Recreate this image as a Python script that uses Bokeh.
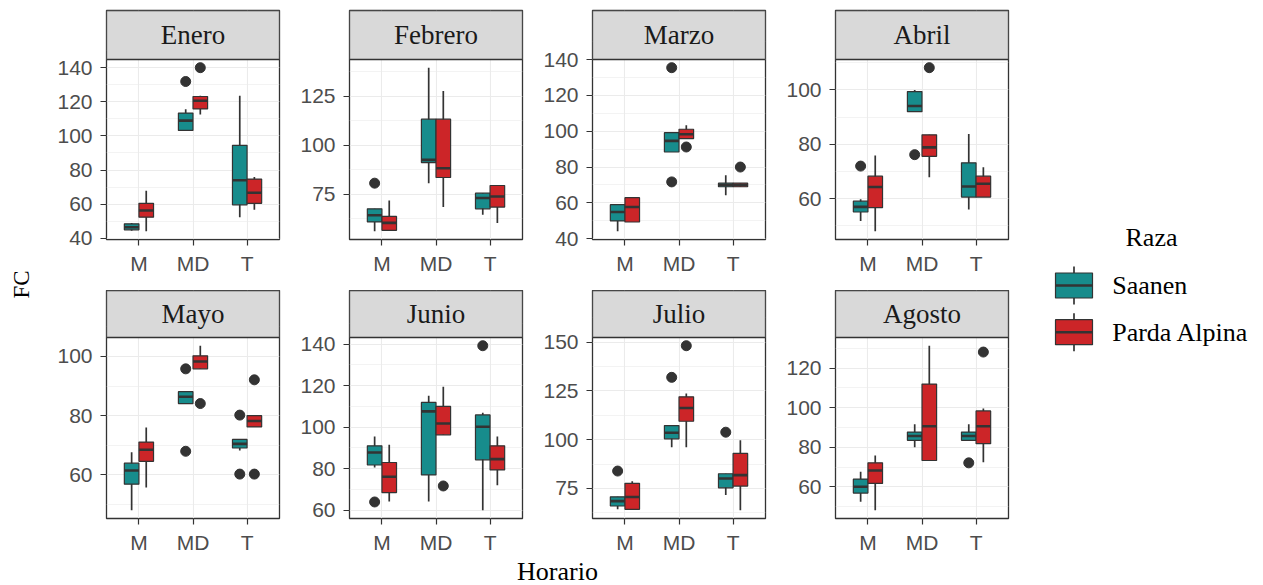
import numpy as np
from bokeh.plotting import figure
from bokeh.models import (Range1d, FixedTicker, ColumnDataSource, FactorRange,
                          BoxAnnotation, Label)
from bokeh.layouts import row, column
from bokeh.transform import dodge
from bokeh.core.properties import value
from bokeh.embed import file_html
from bokeh.resources import INLINE

# ---------------- data ----------------
MESES = ["Enero", "Febrero", "Marzo", "Abril", "Mayo", "Junio", "Julio", "Agosto"]
HORARIOS = ["M", "MD", "T"]
RAZAS = ["Saanen", "Parda Alpina"]

# Saanen: per month, values for M, MD, T
S_LOW = [[44.5, 103.0, 52.4], [56.0, 80.6, 64.5], [44.1, 88.4, 64.2], [51.8, 92.0, 56.0],
         [48.1, 84.1, 68.3], [80.6, 64.2, 60.0], [64.3, 96.1, 71.6], [52.4, 80.0, 83.5]]
S_Q1 = [[45.0, 103.2, 59.6], [60.8, 91.1, 67.5], [49.9, 88.4, 69.0], [55.1, 92.0, 60.6],
        [56.9, 84.1, 69.1], [81.8, 77.0, 84.3], [66.0, 100.4, 75.3], [56.8, 83.5, 83.5]]
S_MED = [[46.5, 109.0, 74.0], [64.2, 92.5, 73.0], [54.9, 94.6, 70.0], [57.0, 94.1, 64.5],
         [61.5, 86.4, 70.5], [87.8, 107.6, 100.2], [68.5, 103.5, 80.1], [60.0, 85.7, 85.7]]
S_Q3 = [[48.5, 113.4, 94.5], [67.5, 113.3, 75.5], [59.0, 99.2, 71.0], [59.1, 99.4, 73.2],
        [64.0, 88.1, 72.0], [91.0, 111.9, 105.9], [70.7, 107.2, 82.5], [63.9, 87.7, 87.7]]
S_HIGH = [[49.0, 115.6, 123.5], [67.5, 139.6, 75.5], [59.0, 99.2, 75.4], [59.8, 100.0, 83.8],
          [67.7, 88.1, 72.0], [95.5, 115.1, 107.0], [70.7, 107.2, 82.5], [67.6, 91.6, 91.6]]
S_OUT = [[[], [131.9], []], [[80.6], [], []], [[], [135.5, 71.7], []], [[72.0], [76.2], []],
         [[], [95.8, 68.0], [80.2, 60.3]], [[64.0], [], [139.2]], [[83.9], [131.9], [103.8]],
         [[], [], [72.1]]]

# Parda Alpina
P_LOW = [[44.1, 112.5, 56.7], [56.5, 68.4, 60.3], [49.3, 95.9, 69.0], [48.0, 67.9, 60.6],
         [55.8, 95.8, 76.2], [64.2, 96.3, 72.0], [64.3, 96.1, 63.8], [48.1, 73.3, 72.4]]
P_Q1 = [[52.4, 115.8, 60.5], [56.5, 83.5, 68.4], [49.3, 95.9, 69.0], [56.7, 75.6, 60.6],
        [64.6, 95.8, 76.2], [68.5, 96.3, 79.4], [64.3, 109.4, 76.2], [61.7, 73.3, 81.8]]
P_MED = [[56.3, 120.6, 66.7], [60.3, 88.2, 73.8], [57.7, 98.3, 70.0], [64.3, 78.9, 65.5],
         [68.5, 98.3, 78.2], [76.1, 101.8, 84.6], [70.6, 116.2, 81.8], [68.2, 90.6, 90.6]]
P_Q3 = [[60.5, 123.1, 74.7], [63.6, 113.3, 79.4], [62.9, 101.1, 71.0], [68.3, 83.5, 68.3],
        [71.1, 100.2, 80.0], [83.0, 110.0, 91.0], [77.6, 121.9, 92.9], [72.1, 112.0, 98.4]]
P_HIGH = [[67.9, 123.5, 76.0], [71.8, 127.7, 79.4], [62.9, 103.3, 71.0], [75.9, 83.5, 71.6],
          [76.0, 103.6, 80.0], [91.5, 119.4, 95.5], [78.7, 123.6, 99.7], [75.8, 131.4, 99.6]]
P_OUT = [[[], [140.0], []], [[], [], []], [[], [91.2], [80.0]], [[], [108.2], []],
         [[], [84.1], [92.1, 60.3]], [[], [71.7], []], [[], [148.1], []],
         [[], [], [128.2]]]

Y_TICKS = [[40, 60, 80, 100, 120, 140], [75, 100, 125], [40, 60, 80, 100, 120, 140],
           [60, 80, 100], [60, 80, 100], [60, 80, 100, 120, 140], [75, 100, 125, 150],
           [60, 80, 100, 120]]

X_LABEL = "Horario"
Y_LABEL = "FC"
LEGEND_TITLE = "Raza"

# ---------------- style ----------------
COLORS = ["#178c8c", "#cc2528"]
EDGE = "#333333"
GRID = "#ebebeb"
TICK_GREY = "#4d4d4d"
SERIF = "Liberation Serif"
SANS = "Liberation Sans"

W_TOTAL, H_TOTAL = 1263, 585
FC_W = 50
FRAME_W = 173
BORDER_L, BORDER_R = 56, 14
CELL_W = BORDER_L + FRAME_W + BORDER_R
LEG_W = W_TOTAL - FC_W - 4 * CELL_W

STRIP_TOP = [10, 0]
STRIP_H = [49, 47]
FRAME_H = [180, 181]
BOTTOM_B = [51, 28]
HOR_H = H_TOTAL - sum(STRIP_TOP) - sum(STRIP_H) - sum(FRAME_H) - sum(BOTTOM_B)

BOX_W = 0.27
OFFSETS = [-0.135, 0.135]


def blank_fig(w, h, xr, yr):
    f = figure(width=w, height=h, x_range=xr, y_range=yr, x_axis_type=None,
               y_axis_type=None, toolbar_location=None, output_backend="svg",
               min_border=0, title=None)
    f.outline_line_color = None
    f.background_fill_color = "white"
    f.border_fill_color = "white"
    return f


def panel(i, r):
    vals = []
    for arr in (S_LOW, S_HIGH, P_LOW, P_HIGH):
        vals += arr[i]
    for out in (S_OUT, P_OUT):
        for lst in out[i]:
            vals += lst
    lo, hi = min(vals), max(vals)
    pad = 0.05 * (hi - lo)
    y0, y1 = lo - pad, hi + pad
    # the strip (facet label) sits above the data area, in the same frame
    y_strip = y1 + (y1 - y0) * STRIP_H[r] / FRAME_H[r]

    p = figure(x_range=FactorRange(factors=HORARIOS, range_padding=0.1,
                                   range_padding_units="absolute"),
               y_range=Range1d(y0, y_strip), frame_width=FRAME_W,
               frame_height=FRAME_H[r] + STRIP_H[r], min_border_left=BORDER_L,
               min_border_right=BORDER_R, min_border_top=STRIP_TOP[r],
               min_border_bottom=BOTTOM_B[r], toolbar_location=None,
               output_backend="svg", title=None)
    p.background_fill_color = "white"
    p.border_fill_color = "white"
    p.outline_line_color = EDGE
    p.outline_line_width = 1.3

    ticks = Y_TICKS[i]
    step = ticks[1] - ticks[0]
    minors = [t - step / 2 for t in ticks] + [ticks[-1] + step / 2]
    p.yaxis.ticker = FixedTicker(ticks=ticks, minor_ticks=minors)
    for ax in (p.xaxis[0], p.yaxis[0]):
        ax.axis_line_color = None
        ax.major_tick_line_color = EDGE
        ax.major_tick_line_width = 1.2
        ax.major_tick_in = 0
        ax.major_tick_out = 6
        ax.minor_tick_line_color = None
        ax.major_label_text_font = SANS
        ax.major_label_text_font_size = "21px"
        ax.major_label_text_color = TICK_GREY
    p.yaxis.major_label_standoff = 8
    p.xaxis.major_label_standoff = 6

    p.xgrid.grid_line_color = GRID
    p.xgrid.grid_line_width = 1.1
    p.ygrid.grid_line_color = GRID
    p.ygrid.grid_line_width = 1.1
    p.ygrid.minor_grid_line_color = GRID
    p.ygrid.minor_grid_line_width = 0.6

    groups = [(S_LOW, S_Q1, S_MED, S_Q3, S_HIGH, S_OUT),
              (P_LOW, P_Q1, P_MED, P_Q3, P_HIGH, P_OUT)]
    for k, (lw, q1, md, q3, hg, out) in enumerate(groups):
        src = ColumnDataSource(dict(x=HORARIOS, low=lw[i], q1=q1[i], med=md[i],
                                    q3=q3[i], high=hg[i]))
        xd = dodge("x", OFFSETS[k], range=p.x_range)
        p.segment(x0=xd, y0="low", x1=xd, y1="high", source=src,
                  line_color=EDGE, line_width=1.7)
        p.vbar(x=xd, width=BOX_W, bottom="q1", top="q3", source=src,
               fill_color=COLORS[k], line_color=EDGE, line_width=1.2)
        p.segment(x0=dodge("x", OFFSETS[k] - BOX_W / 2, range=p.x_range), y0="med",
                  x1=dodge("x", OFFSETS[k] + BOX_W / 2, range=p.x_range), y1="med",
                  source=src, line_color=EDGE, line_width=2.6)
        ox = [HORARIOS[h] for h, lst in enumerate(out[i]) for _ in lst]
        oy = [v for lst in out[i] for v in lst]
        if ox:
            osrc = ColumnDataSource(dict(x=ox, y=oy))
            p.scatter(x=dodge("x", OFFSETS[k], range=p.x_range), y="y", source=osrc,
                      size=10, fill_color=EDGE, line_color=EDGE)

    # facet strip
    p.add_layout(BoxAnnotation(bottom=y1, fill_color="#d9d9d9", fill_alpha=1.0,
                               line_color=EDGE, line_alpha=1.0, line_width=1.3))
    p.add_layout(Label(x=1.5, y=(y1 + y_strip) / 2, text=MESES[i], text_font=SERIF,
                       text_font_size="27px", text_color="#1a1a1a", text_align="center",
                       text_baseline="middle"))
    return p


rows = []
for r in range(2):
    rows.append(row(*[panel(r * 4 + c, r) for c in range(4)], spacing=0))

# x-axis title
hor = blank_fig(4 * CELL_W, HOR_H, Range1d(0, 4 * CELL_W), Range1d(0, HOR_H))
frames_center = (BORDER_L + (3 * CELL_W + BORDER_L + FRAME_W)) / 2
hor.text(x=[frames_center], y=[HOR_H - 15], text=[X_LABEL], text_font=value(SERIF),
         text_font_size="26px", text_color="black", text_align="center",
         text_baseline="middle")

# y-axis title
fc = blank_fig(FC_W, H_TOTAL, Range1d(0, FC_W), Range1d(0, H_TOTAL))
fc.text(x=[21], y=[H_TOTAL - 284], text=[Y_LABEL], text_font=value(SERIF),
        text_font_size="23px", text_color="black", text_align="center",
        text_baseline="middle", angle=np.pi / 2)

# legend
leg = blank_fig(LEG_W, H_TOTAL, Range1d(0, LEG_W), Range1d(0, H_TOTAL))
key_cx, key_hw, key_hh, whisk = 51.5, 18.5, 12.5, 19
row_y = [H_TOTAL - 285 - 46.7 * k for k in range(len(RAZAS))]
n = len(RAZAS)
lsrc = ColumnDataSource(dict(x=[key_cx] * n, y=row_y, label=RAZAS, color=COLORS,
                             l=[key_cx - key_hw] * n, r=[key_cx + key_hw] * n,
                             t=[y + key_hh for y in row_y], b=[y - key_hh for y in row_y],
                             wt=[y + whisk for y in row_y], wb=[y - whisk for y in row_y],
                             tx=[89.7] * n))
leg.segment(x0="x", y0="wb", x1="x", y1="wt", source=lsrc, line_color=EDGE, line_width=1.7)
leg.quad(left="l", right="r", top="t", bottom="b", source=lsrc, fill_color="color",
         line_color=EDGE, line_width=1.2)
leg.segment(x0="l", y0="y", x1="r", y1="y", source=lsrc, line_color=EDGE, line_width=2.6)
leg.text(x="tx", y="y", text="label", source=lsrc, text_font=value(SERIF),
         text_font_size="26px", text_color="black", text_align="left",
         text_baseline="middle")
leg.text(x=[129], y=[H_TOTAL - 236.7], text=[LEGEND_TITLE], text_font=value(SERIF),
         text_font_size="26px", text_color="black", text_align="center",
         text_baseline="middle")

layout = row(fc, column(rows[0], rows[1], hor, spacing=0), leg, spacing=0)

open("out.html", "w").write(file_html(layout, INLINE))
